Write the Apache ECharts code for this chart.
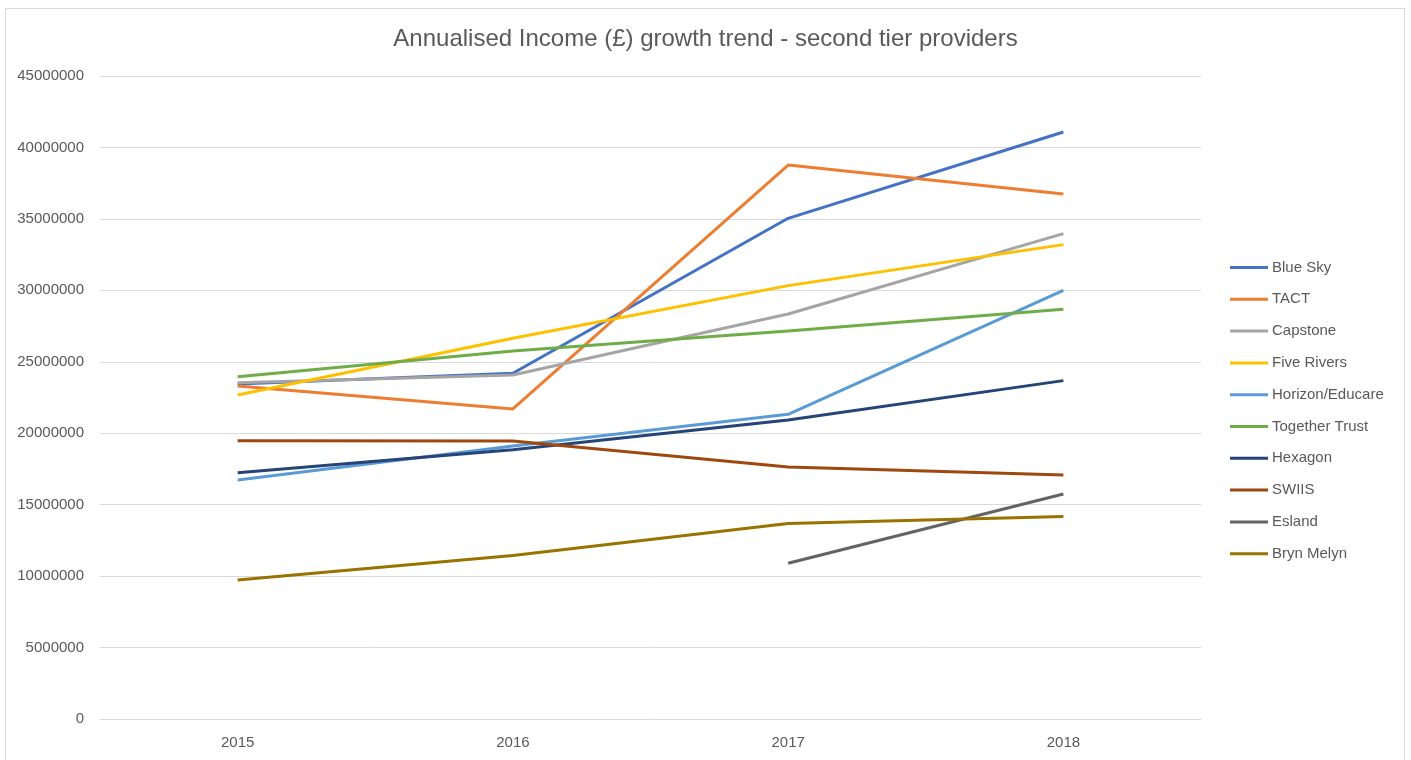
<!DOCTYPE html>
<html><head><meta charset="utf-8">
<script src="https://cdn.jsdelivr.net/npm/echarts@6/dist/echarts.min.js"></script>
<style>html,body{margin:0;padding:0;background:#fff}#c{width:1411px;height:760px}
#frame{position:absolute;left:5px;top:8px;width:1400px;height:760px;border:1px solid #d9d9d9;box-sizing:border-box;pointer-events:none}</style>
</head><body><div id="c"></div><div id="frame"></div>
<script>
const years = ['2015','2016','2017','2018'];
const names = ['Blue Sky','TACT','Capstone','Five Rivers','Horizon/Educare','Together Trust','Hexagon','SWIIS','Esland','Bryn Melyn'];
const blueSky = [23450000, 24200000, 35040000, 41080000];
const tact = [23300000, 21700000, 38770000, 36740000];
const capstone = [23540000, 24080000, 28340000, 33970000];
const fiveRivers = [22670000, 26640000, 30330000, 33200000];
const horizon = [16730000, 19100000, 21320000, 30000000];
const togetherTrust = [23950000, 25750000, 27150000, 28670000];
const hexagon = [17240000, 18850000, 20930000, 23680000];
const swiis = [19480000, 19460000, 17640000, 17080000];
const esland = [null, null, 10900000, 15750000];
const brynMelyn = [9730000, 11450000, 13690000, 14180000];
const colors = ['#4472C4','#ED7D31','#A5A5A5','#FFC000','#5B9BD5','#70AD47','#264478','#9E480E','#636363','#997300'];
const allData = [blueSky, tact, capstone, fiveRivers, horizon, togetherTrust, hexagon, swiis, esland, brynMelyn];
const font = 'Liberation Sans, Arial, sans-serif';
const chart = echarts.init(document.getElementById('c'));
chart.setOption({
  animation:false,
  color: colors,
  title:{text:'Annualised Income (£) growth trend - second tier providers', left:'center', top:22,
    textStyle:{fontFamily:font, fontSize:24, fontWeight:'normal', color:'#595959'}},
  grid:{left:100, right:210, top:76, bottom:41},
  legend:{orient:'vertical', left:1225, top:255, itemWidth:38, itemHeight:3, itemGap:16.8, icon:'rect',
    textStyle:{fontFamily:font, fontSize:15, color:'#595959', padding:[0,0,0,-1]}, data:names},
  xAxis:{type:'category', data:years, boundaryGap:true,
    axisLine:{lineStyle:{color:'#d9d9d9'}}, axisTick:{show:false},
    axisLabel:{fontFamily:font, fontSize:15, color:'#595959', margin:16}},
  yAxis:{type:'value', min:0, max:45000000, interval:5000000,
    axisLine:{show:false}, axisTick:{show:false},
    splitLine:{lineStyle:{color:'#d9d9d9', width:1}},
    axisLabel:{fontFamily:font, fontSize:15, color:'#595959', margin:16, formatter:v=>String(v)}},
  series: names.map((n,i)=>({name:n, type:'line', data:allData[i], symbol:'none', showSymbol:false,
    lineStyle:{width:3, color:colors[i]}, itemStyle:{color:colors[i]}}))
});
</script></body></html>
